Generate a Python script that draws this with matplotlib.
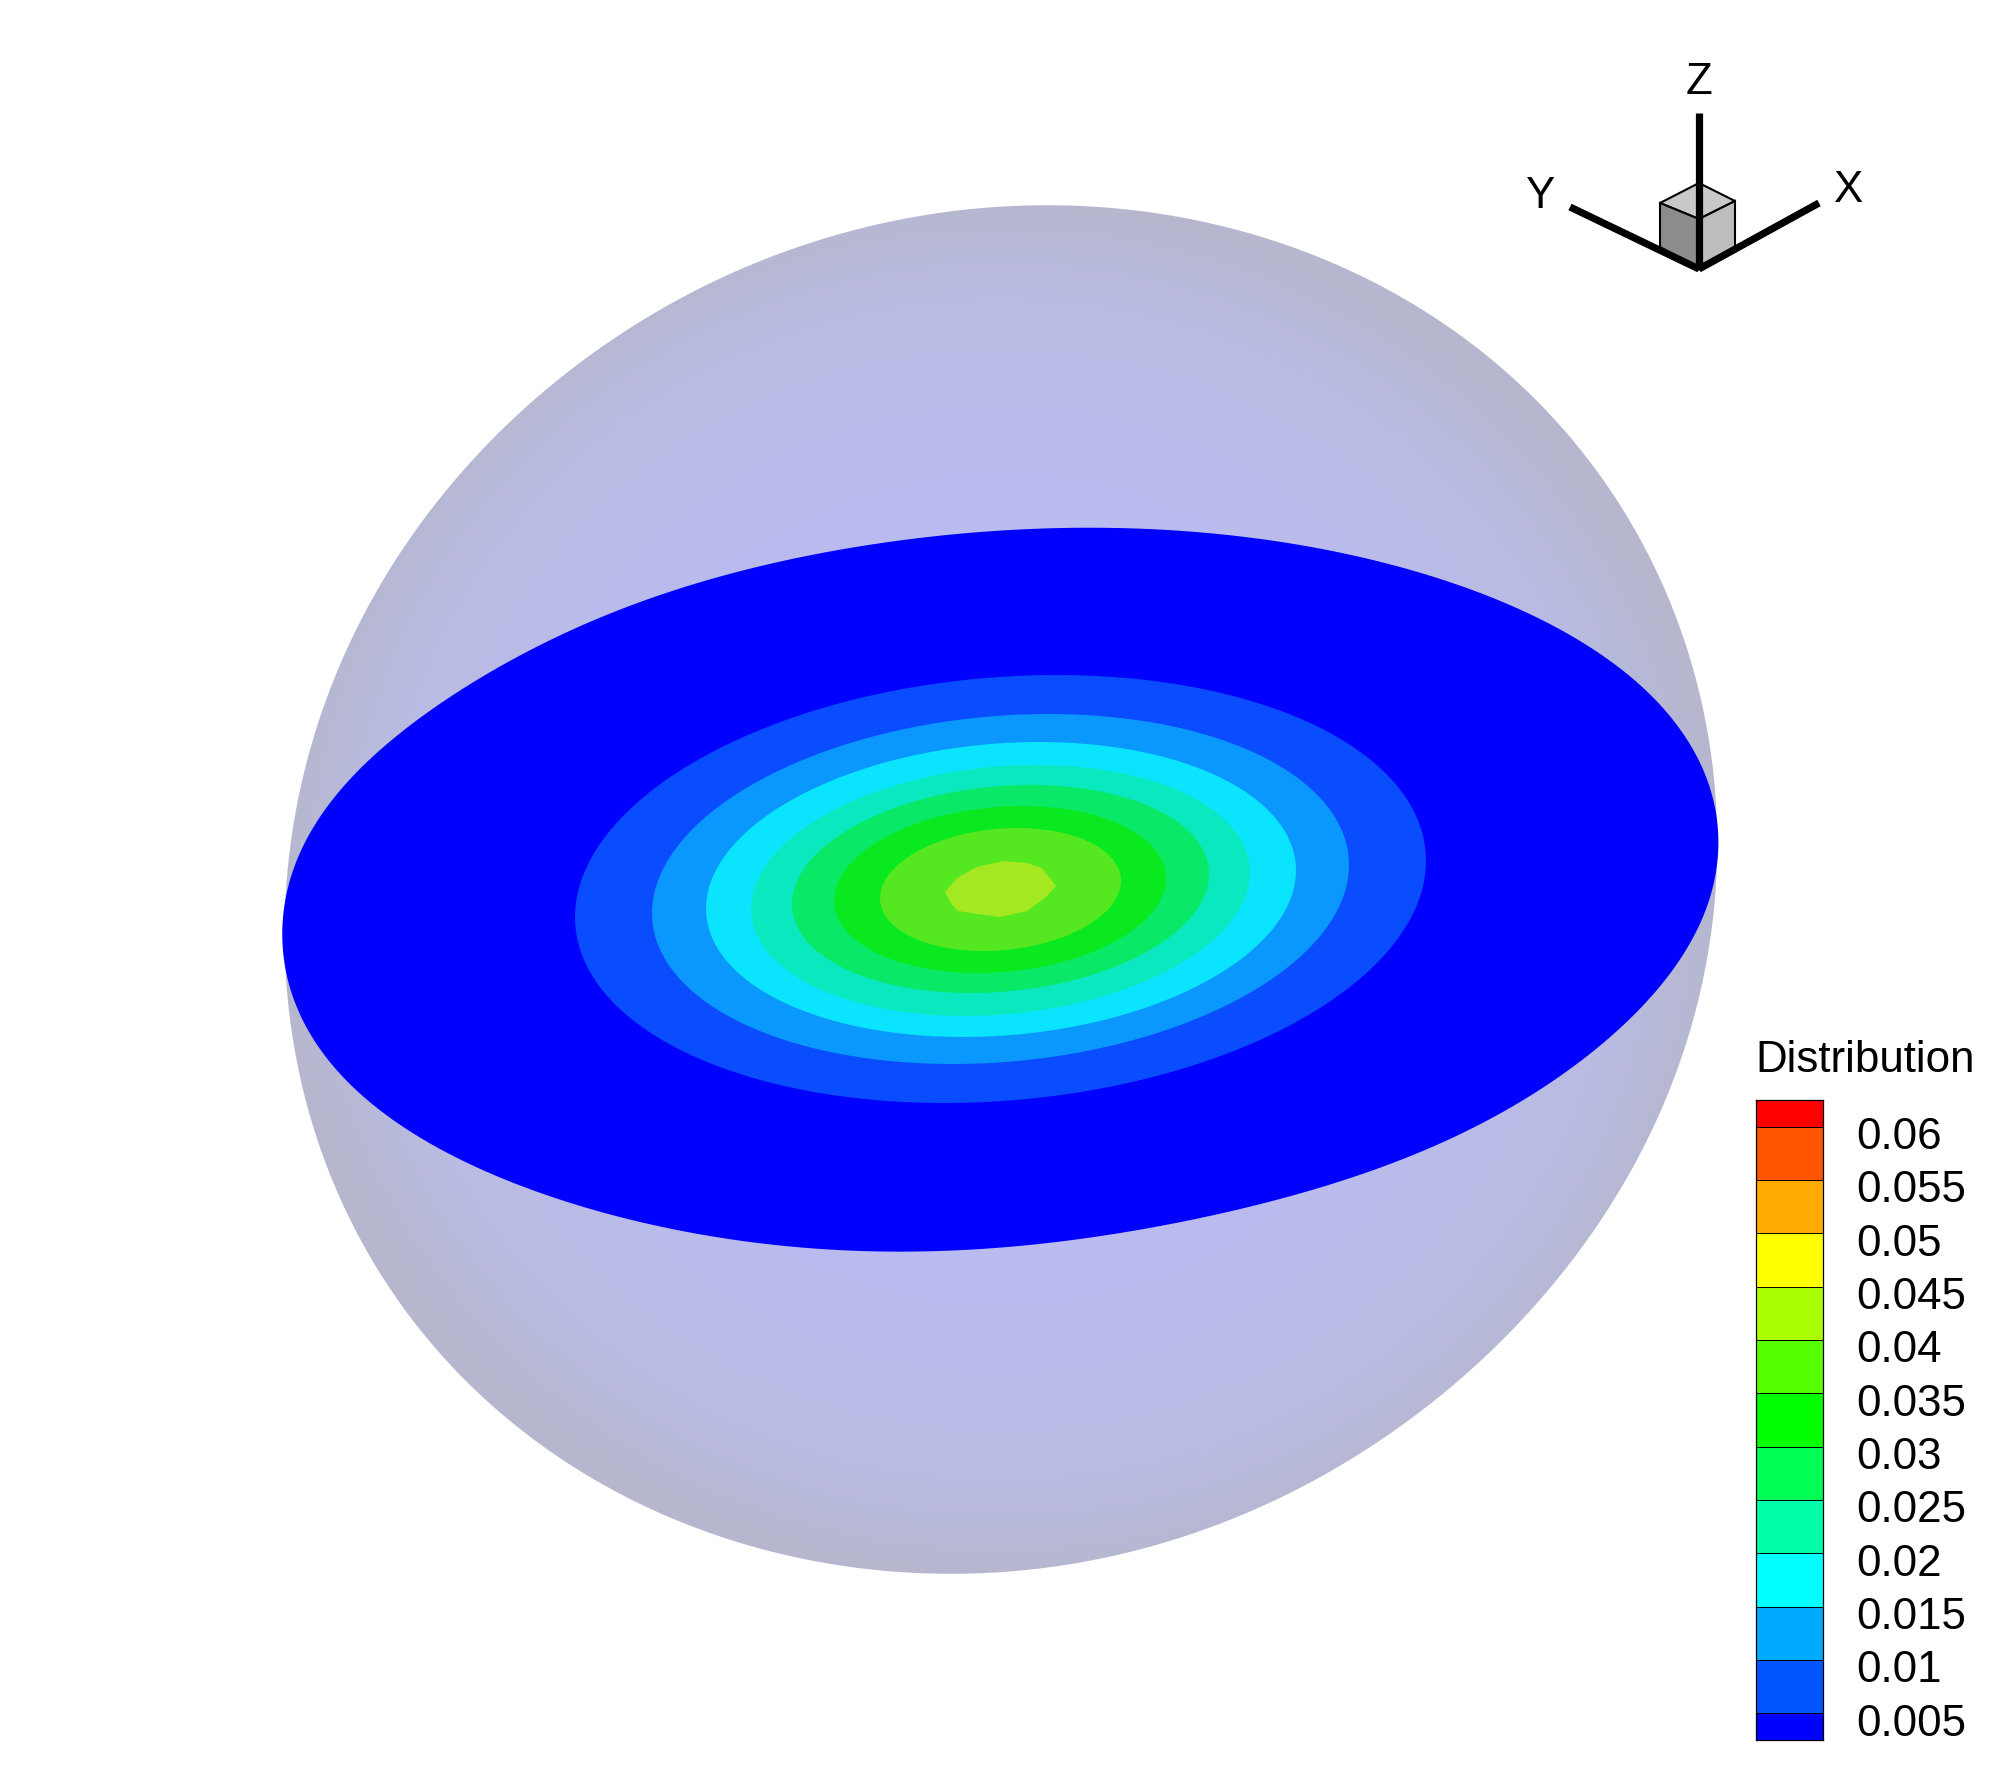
"""
Distribution contours on a plane through a translucent sphere, with axis triad
and a banded legend.

Output:
    out.png
"""
from __future__ import annotations

import matplotlib as mpl
import matplotlib.pyplot as plt
import numpy as np
from matplotlib.colors import LinearSegmentedColormap, ListedColormap
from matplotlib.patches import Polygon

WIDTH_PX = 2000
HEIGHT_PX = 1778
DPI = 100
FONT_SIZE = 31.6

# sphere silhouette in pixels
SPHERE_X = [285, 293, 302, 312, 323, 335, 360, 393, 420, 460, 510, 560, 610, 660, 710, 760,
            819, 889, 960, 1018, 1071, 1141, 1229, 1288, 1359, 1406, 1458, 1499, 1546, 1587,
            1623, 1652, 1670, 1687, 1698, 1707, 1717, 1717, 1707, 1697, 1673, 1637, 1622,
            1596, 1561, 1526, 1487, 1444, 1396, 1340, 1275, 1205, 1153, 1088, 1032, 980,
            936, 897, 840, 771, 710, 658, 602, 550, 502, 454, 407, 368, 342, 326, 320, 303,
            293, 287]
SPHERE_Y = [906, 834, 781, 741, 706, 680, 617, 567, 527, 473, 420, 377, 343, 310, 283, 262,
            240, 222, 210, 205, 205, 212, 227, 247, 275, 300, 333, 367, 410, 457,
            507, 560, 603, 654, 693, 732, 800, 871, 957, 1011, 1082, 1160, 1183,
            1227, 1273, 1317, 1357, 1390, 1430, 1467, 1500, 1528, 1547, 1562, 1568, 1573,
            1573, 1572, 1565, 1552, 1535, 1513, 1483, 1450, 1413, 1370, 1310, 1257, 1203, 1160, 1149, 1095,
            1038, 984]
SPHERE_BOX = (1001, 889, 716, 684)  # centre x, centre y, half width, half height
SPHERE_STOPS = ["#babdf4", "#babcf2", "#b9bbea", "#b9bbe2", "#b6b7cf"]

# lowest band fills the whole cut plane
DISC_X = [283, 293, 305, 337, 365, 413, 457, 503, 557, 600, 651, 702, 763, 855, 927, 993,
          1059, 1120, 1177, 1238, 1314, 1400, 1450, 1497, 1553, 1613, 1663, 1690, 1710,
          1718, 1713, 1703, 1673, 1633, 1580, 1513, 1403, 1330, 1263, 1161, 1059, 957,
          876, 768, 687, 600, 555, 510, 443, 387, 337, 310, 295, 287]
DISC_Y = [931, 870, 841, 795, 763, 724, 693, 663, 638, 618, 597, 582, 566, 547, 537, 531,
          528, 528, 531, 536, 548, 566, 582, 600, 627, 662, 707, 746, 786,
          836, 879, 921, 971, 1014, 1061, 1107, 1160, 1183, 1203, 1227, 1242, 1250,
          1250, 1245, 1233, 1212, 1197, 1180, 1152, 1116, 1070, 1034, 1002, 977]
DISC_BOX = (1000, 889, 717, 361)
DISC_COLOR = "#0000ff"

# filled contour bands, outermost first
BAND_LEFT = [575, 652, 706, 751, 792, 834, 880]
BAND_RIGHT = [1426, 1349, 1296, 1250, 1209, 1166, 1121]
BAND_TOP = [675, 714, 742, 765, 785, 806, 828]
BAND_BOTTOM = [1103, 1064, 1037, 1016, 993, 973, 951]
BAND_SHIFT = [56, 48, 38, 36, 30, 22, 17]
BAND_COLORS = ["#0a4cff", "#0a98ff", "#0ae4ff",
               "#0ae8c0", "#0ae868", "#0ae820", "#55e820"]

# innermost band is a coarse polygon
PEAK_X = [945, 957, 977, 1003, 1027, 1042, 1056, 1045, 1027, 1000, 977, 958, 950]
PEAK_Y = [892, 878, 867, 861, 863, 868, 886, 898, 911, 917, 914, 911, 902]
PEAK_COLOR = "#a3e820"

# legend
LEVELS = [0.06, 0.055, 0.05, 0.045, 0.04, 0.035, 0.03,
          0.025, 0.02, 0.015, 0.01, 0.005]
LEVEL_LABELS = ["0.06", "0.055", "0.05", "0.045", "0.04", "0.035", "0.03",
                "0.025", "0.02", "0.015", "0.01", "0.005"]
LEVEL_COLORS = ["#0000ff", "#0055ff", "#00aaff", "#00ffff", "#00ffaa", "#00ff55",
                "#00ff00", "#55ff00", "#aaff00", "#ffff00", "#ffaa00", "#ff5500",
                "#ff0000"]
LEGEND_EDGES = [0.0025, 0.005, 0.01, 0.015, 0.02, 0.025, 0.03, 0.035,
                0.04, 0.045, 0.05, 0.055, 0.06, 0.0625]

# triad
ORIGIN = (1699, 269)
AXIS_ENDS = {"X": (1819, 203), "Y": (1570, 207), "Z": (1699, 113)}
AXIS_TEXT = {"X": (1848, 191), "Y": (1541, 196), "Z": (1699, 82)}
CUBE_TOP = [(1660, 203), (1699, 183), (1735, 201), (1699, 219)]
CUBE_LEFT = [(1660, 203), (1699, 219), (1699, 269), (1660, 247)]
CUBE_RIGHT = [(1699, 219), (1735, 201), (1735, 247), (1699, 269)]


def ellipse_xy(left, right, top, bottom, shift):
    """Tilted ellipse from its bounding box and the x shift of its top point."""
    cx, cy = (left + right) / 2, (top + bottom) / 2
    hx, hy = (right - left) / 2, (bottom - top) / 2
    phi = np.arccos(shift / hx)
    t = np.linspace(0, 2 * np.pi, 241)
    return np.column_stack([cx + hx * np.cos(t), cy - hy * np.cos(t - phi)])


def harmonics(theta, order):
    cols = [np.ones_like(theta)]
    for k in range(1, order + 1):
        cols += [np.cos(k * theta), np.sin(k * theta)]
    return np.column_stack(cols)


def fitted_outline(xs, ys, box, order):
    """Smooth closed curve through the read points, to even out reading error."""
    cx, cy, hx, hy = box
    u = (np.asarray(xs, dtype=float) - cx) / hx
    v = (np.asarray(ys, dtype=float) - cy) / hy
    coef, *_ = np.linalg.lstsq(harmonics(np.arctan2(v, u), order), np.hypot(u, v), rcond=None)
    t = np.linspace(-np.pi, np.pi, 721)
    r = harmonics(t, order) @ coef
    return np.column_stack([cx + hx * r * np.cos(t), cy + hy * r * np.sin(t)])


def draw_sphere(ax) -> None:
    outline = Polygon(fitted_outline(SPHERE_X, SPHERE_Y, SPHERE_BOX, 6), closed=True,
                      facecolor="none", edgecolor="none")
    ax.add_patch(outline)

    cx, cy, hx, hy = SPHERE_BOX
    x0, x1 = min(SPHERE_X) - 5, max(SPHERE_X) + 5
    y0, y1 = min(SPHERE_Y) - 5, max(SPHERE_Y) + 5
    xx, yy = np.meshgrid(np.arange(x0, x1), np.arange(y0, y1))
    rr = np.hypot((xx - cx) / hx, (yy - cy) / hy)
    cmap = LinearSegmentedColormap.from_list("shade", SPHERE_STOPS)
    img = ax.imshow(np.clip(rr, 0, 1) ** 2, cmap=cmap, vmin=0, vmax=1,
                    extent=(x0, x1, y1, y0), interpolation="bilinear",
                    aspect="auto", zorder=1)
    img.set_clip_path(outline)


def draw_bands(ax) -> None:
    ax.add_patch(Polygon(fitted_outline(DISC_X, DISC_Y, DISC_BOX, 8), closed=True,
                         facecolor=DISC_COLOR, edgecolor="none", zorder=2))
    for i, color in enumerate(BAND_COLORS):
        pts = ellipse_xy(BAND_LEFT[i], BAND_RIGHT[i], BAND_TOP[i], BAND_BOTTOM[i], BAND_SHIFT[i])
        ax.add_patch(Polygon(pts, closed=True, facecolor=color, edgecolor="none", zorder=3 + i))
    ax.add_patch(Polygon(np.column_stack([PEAK_X, PEAK_Y]), closed=True,
                         facecolor=PEAK_COLOR, edgecolor="none", zorder=11))


def draw_triad(ax) -> None:
    for pts, color in [(CUBE_TOP, "#c9c9c9"), (CUBE_LEFT, "#8c8c8c"), (CUBE_RIGHT, "#bdbdbd")]:
        ax.add_patch(Polygon(pts, closed=True, facecolor=color, edgecolor="black",
                             linewidth=1.5, zorder=12))
    for name, (x, y) in AXIS_ENDS.items():
        ax.plot([ORIGIN[0], x], [ORIGIN[1], y], color="black",
                linewidth=5.2, solid_capstyle="butt", zorder=13)
        tx, ty = AXIS_TEXT[name]
        ax.text(tx, ty, name, ha="center", va="center", fontsize=FONT_SIZE, color="black")


def draw_legend(fig) -> None:
    # px box of the colour column: x 1756-1823, y 1100-1740
    cax = fig.add_axes([1756 / WIDTH_PX, 1 - 1740 / HEIGHT_PX, 67 / WIDTH_PX, 640 / HEIGHT_PX])
    cmap = ListedColormap(LEVEL_COLORS)
    cax.pcolormesh([0, 1], LEGEND_EDGES, np.arange(len(LEVEL_COLORS)).reshape(-1, 1),
                   cmap=cmap, vmin=-0.5, vmax=len(LEVEL_COLORS) - 0.5, shading="flat")
    cax.set_xlim(0, 1)
    cax.set_ylim(LEGEND_EDGES[0], LEGEND_EDGES[-1])
    cax.set_xticks([])
    cax.set_yticks([])
    for spine in cax.spines.values():
        spine.set_linewidth(0.9)
    for level, label in zip(LEVELS, LEVEL_LABELS):
        cax.axhline(level, color="black", linewidth=0.7)
        cax.annotate(label, xy=(1, level), xycoords=("axes fraction", "data"),
                     xytext=(33, -11), textcoords="offset pixels",
                     ha="left", va="center", fontsize=FONT_SIZE, color="black",
                     annotation_clip=False)
    fig.text(1755 / WIDTH_PX, 1 - 1060 / HEIGHT_PX, "Distribution",
             ha="left", va="center", fontsize=FONT_SIZE, color="black")


def main() -> None:
    mpl.rcParams["font.family"] = ["Liberation Sans", "DejaVu Sans"]

    fig = plt.figure(figsize=(WIDTH_PX / DPI, HEIGHT_PX / DPI), dpi=DPI, facecolor="white")
    ax = fig.add_axes([0, 0, 1, 1])

    draw_sphere(ax)
    draw_bands(ax)
    draw_triad(ax)

    ax.set_xlim(0, WIDTH_PX)
    ax.set_ylim(HEIGHT_PX, 0)
    ax.set_axis_off()

    draw_legend(fig)

    fig.savefig("out.png", dpi=DPI)
    plt.close(fig)


if __name__ == "__main__":
    main()
